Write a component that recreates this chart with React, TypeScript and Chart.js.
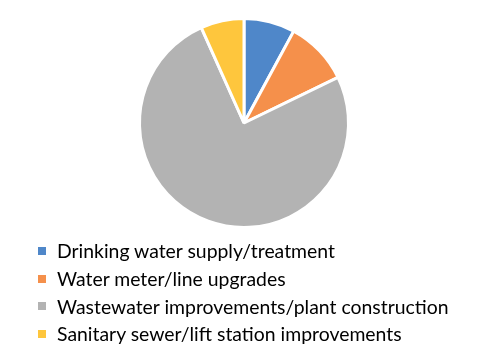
import React, { useEffect, useRef } from "react";
import { Chart, registerables } from "chart.js";

Chart.register(...registerables);

const categories = [
  "Drinking water supply/treatment",
  "Water meter/line upgrades",
  "Wastewater improvements/plant construction",
  "Sanitary sewer/lift station improvements",
];
const values = [7.9, 9.9, 75.5, 6.7];
const colors = ["#4F87C9", "#F5904B", "#B3B3B3", "#FEC63D"];

export default function App() {
  const ref = useRef<HTMLCanvasElement | null>(null);
  useEffect(() => {
    document.body.style.margin = "0";
    const chart = new Chart(ref.current!, {
      type: "pie",
      data: {
        labels: categories,
        datasets: [
          {
            data: values,
            backgroundColor: colors,
            borderColor: "#ffffff",
            borderWidth: 3,
          },
        ],
      },
      options: {
        responsive: false,
        animation: false,
        layout: { padding: { top: 17, bottom: 130, left: 0, right: 7 } },
        plugins: { legend: { display: false }, tooltip: { enabled: false } },
      },
    });
    return () => chart.destroy();
  }, []);
  return (
    <div style={{ position: "fixed", left: 0, top: 0, width: 495, height: 359, background: "#fff" }}>
      <canvas ref={ref} width={495} height={359} style={{ position: "absolute", left: 0, top: 0 }} />
      <div style={{ position: "absolute", left: 38, top: 237, fontFamily: "Lato", fontSize: 19.4, color: "#000" }}>
        {categories.map((c, i) => (
          <div key={c} style={{ display: "flex", alignItems: "center", height: 27.7 }}>
            <span style={{ display: "inline-block", width: 8, height: 8, background: colors[i], marginRight: 11 }} />
            <span>{c}</span>
          </div>
        ))}
      </div>
    </div>
  );
}
